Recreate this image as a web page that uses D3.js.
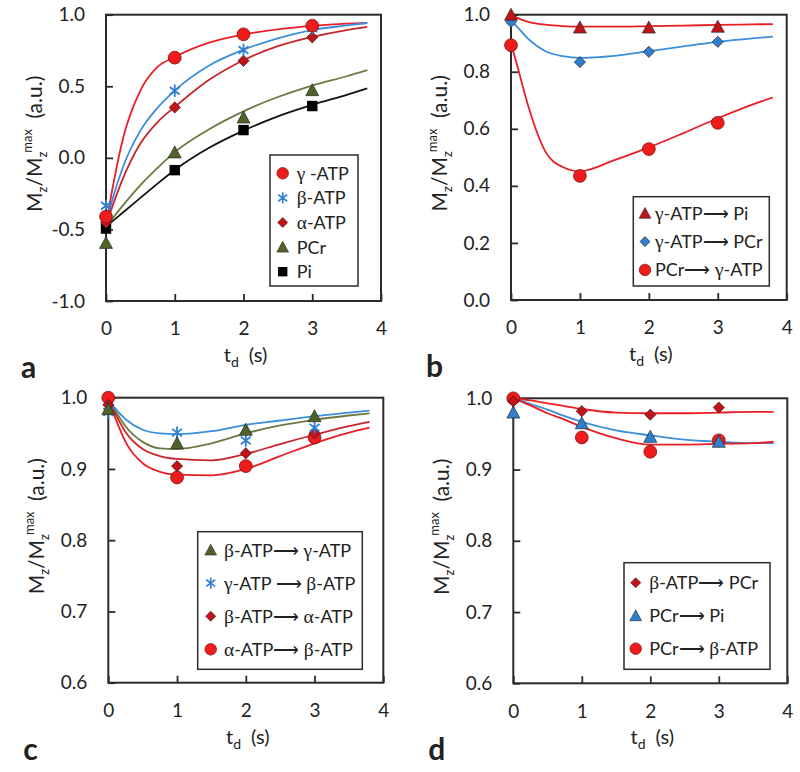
<!DOCTYPE html>
<html><head><meta charset="utf-8">
<script src="https://cdn.jsdelivr.net/npm/d3@7"></script>
<style>
body{margin:0;background:#fff}
text{font-family:Lato,'Open Sans',sans-serif;fill:#222}
</style>
</head><body>
<svg id="chart" width="800" height="772"></svg>
<script>
// ---------- data ----------
const tData = [0, 1, 2, 3];
const tFit = [0, 0.1, 0.25, 0.5, 0.75, 1, 1.5, 2, 2.5, 3, 3.5, 3.8];
const xTicks = [0, 1, 2, 3, 4];
const yTicksA = [-1.0, -0.5, 0.0, 0.5, 1.0];
const yTicksB = [0.0, 0.2, 0.4, 0.6, 0.8, 1.0];
const yTicksCD = [0.6, 0.7, 0.8, 0.9, 1.0];

// panel a
const aGammaATP = [-0.41, 0.70, 0.863, 0.923];
const aBetaATP = [-0.335, 0.469, 0.753, 0.905];
const aAlphaATP = [-0.452, 0.352, 0.678, 0.842];
const aPCr = [-0.594, 0.038, 0.282, 0.473];
const aPi = [-0.494, -0.086, 0.194, 0.362];
const aGammaATPFit = [-0.47, -0.20, 0.14, 0.47, 0.635, 0.705, 0.805, 0.862, 0.898, 0.922, 0.937, 0.942];
const aBetaATPFit = [-0.46, -0.28, -0.06, 0.19, 0.35, 0.47, 0.645, 0.755, 0.835, 0.893, 0.925, 0.942];
const aAlphaATPFit = [-0.47, -0.33, -0.14, 0.10, 0.25, 0.355, 0.545, 0.682, 0.78, 0.845, 0.893, 0.915];
const aPCrFit = [-0.48, -0.42, -0.33, -0.19, -0.07, 0.04, 0.20, 0.325, 0.425, 0.505, 0.57, 0.613];
const aPiFit = [-0.48, -0.44, -0.38, -0.28, -0.18, -0.085, 0.07, 0.19, 0.29, 0.37, 0.44, 0.485];

// panel b
const bGammaToPi = [1.0, 0.955, 0.955, 0.958];
const bGammaToPCr = [0.975, 0.834, 0.870, 0.905];
const bPCrToGamma = [0.893, 0.435, 0.529, 0.621];
const bGammaToPiFit = [1.0, 0.988, 0.975, 0.965, 0.96, 0.958, 0.958, 0.96, 0.962, 0.964, 0.966, 0.967];
const bGammaToPCrFit = [0.978, 0.955, 0.915, 0.872, 0.855, 0.849, 0.856, 0.872, 0.889, 0.905, 0.917, 0.923];
const bPCrToGammaFit = [0.90, 0.813, 0.68, 0.52, 0.466, 0.451, 0.49, 0.535, 0.585, 0.637, 0.685, 0.71];

// panel c
const cBetaToGamma = [0.984, 0.936, 0.955, 0.974];
const cGammaToBeta = [0.980, 0.951, 0.940, 0.958];
const cBetaToAlpha = [0.990, 0.904, 0.922, 0.950];
const cAlphaToBeta = [1.0, 0.888, 0.904, 0.944];
const cBetaToGammaFit = [0.998, 0.982, 0.96, 0.938, 0.929, 0.928, 0.936, 0.950, 0.961, 0.969, 0.975, 0.978];
const cGammaToBetaFit = [0.998, 0.985, 0.97, 0.955, 0.95, 0.949, 0.953, 0.962, 0.968, 0.974, 0.979, 0.982];
const cBetaToAlphaFit = [0.998, 0.978, 0.952, 0.928, 0.918, 0.914, 0.912, 0.921, 0.935, 0.948, 0.96, 0.966];
const cAlphaToBetaFit = [0.998, 0.972, 0.938, 0.908, 0.896, 0.892, 0.891, 0.900, 0.918, 0.936, 0.951, 0.958];

// panel d
const dBetaToPCr = [0.996, 0.982, 0.977, 0.987];
const dPCrToPi = [0.980, 0.965, 0.946, 0.939];
const dPCrToBeta = [1.0, 0.945, 0.925, 0.941];
const dBetaToPCrFit = [1.0, 0.999, 0.997, 0.993, 0.989, 0.985, 0.980, 0.979, 0.979, 0.980, 0.981, 0.981];
const dPCrToPiFit = [1.0, 0.997, 0.992, 0.984, 0.975, 0.967, 0.955, 0.948, 0.942, 0.939, 0.937, 0.937];
const dPCrToBetaFit = [1.0, 0.996, 0.99, 0.979, 0.97, 0.960, 0.944, 0.935, 0.935, 0.936, 0.937, 0.939];

// ---------- styles ----------
const RED = '#f01c1c', RED_LINE = '#ea1f26', DRED = '#c0131a', DRED_LINE = '#c8252b';
const BLUE = '#2f7fd0', BLUE_LINE = '#3a8fdb', OLIVE = '#4f6228', OLIVE_LINE = '#6b7a40';

const panels = [
  {label:'a', box:[106, 14.7, 381, 301], y:[-1, 1], yTicks:yTicksA,
   legend:{x:270, y:155, w:88, h:131, mx:282.7, tx:296.7, r0:173.3, dr:24.6},
   series:[
     {name:'γ -ATP', pts:aGammaATP, fit:aGammaATPFit, m:'circle', fill:RED, line:RED_LINE},
     {name:'β-ATP', pts:aBetaATP, fit:aBetaATPFit, m:'asterisk', fill:BLUE, line:BLUE_LINE},
     {name:'α-ATP', pts:aAlphaATP, fit:aAlphaATPFit, m:'diamond', fill:DRED, line:DRED_LINE},
     {name:'PCr', pts:aPCr, fit:aPCrFit, m:'triangle', fill:OLIVE, line:OLIVE_LINE},
     {name:'Pi', pts:aPi, fit:aPiFit, m:'square', fill:'#000', line:'#111'}
   ]},
  {label:'b', box:[511, 14.7, 786.7, 300], y:[0, 1], yTicks:yTicksB,
   legend:{x:633.3, y:196.7, w:136, h:89.3, mx:645, tx:655, r0:213.3, dr:28.3},
   series:[
     {name:'γ-ATP⟶ Pi', pts:bGammaToPi, fit:bGammaToPiFit, m:'triangle', fill:DRED, line:RED_LINE},
     {name:'γ-ATP⟶ PCr', pts:bGammaToPCr, fit:bGammaToPCrFit, m:'diamond', fill:BLUE, line:BLUE_LINE},
     {name:'PCr⟶ γ-ATP', pts:bPCrToGamma, fit:bPCrToGammaFit, m:'circle', fill:RED, line:RED_LINE}
   ]},
  {label:'c', box:[108.3, 397.7, 383.3, 682.7], y:[0.6, 1], yTicks:yTicksCD,
   legend:{x:197.7, y:531.7, w:164.6, h:137.6, mx:210.7, tx:224, r0:550, dr:33.1},
   series:[
     {name:'β-ATP⟶ γ-ATP', pts:cBetaToGamma, fit:cBetaToGammaFit, m:'triangle', fill:OLIVE, line:OLIVE_LINE},
     {name:'γ-ATP ⟶ β-ATP', pts:cGammaToBeta, fit:cGammaToBetaFit, m:'asterisk', fill:BLUE, line:BLUE_LINE},
     {name:'β-ATP⟶ α-ATP', pts:cBetaToAlpha, fit:cBetaToAlphaFit, m:'diamond', fill:DRED, line:DRED_LINE},
     {name:'α-ATP⟶ β-ATP', pts:cAlphaToBeta, fit:cAlphaToBetaFit, m:'circle', fill:RED, line:RED_LINE}
   ]},
  {label:'d', box:[513.3, 398.3, 787.3, 683.3], y:[0.6, 1], yTicks:yTicksCD,
   legend:{x:624, y:562.7, w:146, h:106.6, mx:635.7, tx:649.3, r0:582.7, dr:33},
   series:[
     {name:'β-ATP⟶ PCr', pts:dBetaToPCr, fit:dBetaToPCrFit, m:'diamond', fill:DRED, line:RED_LINE},
     {name:'PCr⟶ Pi', pts:dPCrToPi, fit:dPCrToPiFit, m:'triangle', fill:BLUE, line:BLUE_LINE},
     {name:'PCr⟶ β-ATP', pts:dPCrToBeta, fit:dPCrToBetaFit, m:'circle', fill:RED, line:RED_LINE}
   ]}
];

const svg = d3.select('#chart');
const AXIS = '#2b2b2b';

function drawMarker(g, type, x, y, fill) {
  if (type === 'circle') {
    g.append('circle').attr('cx', x).attr('cy', y).attr('r', 6.4)
      .attr('fill', fill).attr('stroke', '#7a1010').attr('stroke-width', 0.8);
  } else if (type === 'diamond') {
    const s = 5.6;
    g.append('path').attr('d', `M${x},${y - s}L${x + s},${y}L${x},${y + s}L${x - s},${y}Z`)
      .attr('fill', fill).attr('stroke', '#3a1a1a').attr('stroke-width', 0.7);
  } else if (type === 'triangle') {
    const s = 6.5;
    g.append('path').attr('d', `M${x},${y - s}L${x + s},${y + s * 0.85}L${x - s},${y + s * 0.85}Z`)
      .attr('fill', fill).attr('stroke', '#2a2a2a').attr('stroke-width', 0.7);
  } else if (type === 'square') {
    const s = 5.2;
    g.append('rect').attr('x', x - s).attr('y', y - s).attr('width', 2 * s).attr('height', 2 * s)
      .attr('fill', fill);
  } else if (type === 'asterisk') {
    const s = 6.2, d = s * 0.8;
    g.append('path').attr('d', `M${x},${y - s}L${x},${y + s}M${x - d},${y - d * 0.75}L${x + d},${y + d * 0.75}M${x - d},${y + d * 0.75}L${x + d},${y - d * 0.75}`)
      .attr('fill', 'none').attr('stroke', fill).attr('stroke-width', 1.8);
  }
}

function richText(sel, str) {
  // Greek letters drawn in a serif face, like the symbol font of the original
  const parts = str.match(/[α-ω]|[^α-ω]+/g);
  parts.forEach(p => {
    const t = sel.append('tspan').text(p);
    if (/[α-ω]/.test(p)) t.style('font-family', "'Liberation Serif','DejaVu Serif',serif").attr('font-size', '1.08em');
  });
}

panels.forEach(P => {
  const [L, T, R, B] = P.box;
  const x = d3.scaleLinear().domain([0, 4]).range([L, R]);
  const y = d3.scaleLinear().domain(P.y).range([B, T]);
  const g = svg.append('g');

  // plot frame
  g.append('rect').attr('x', L).attr('y', T).attr('width', R - L).attr('height', B - T)
    .attr('fill', 'none').attr('stroke', AXIS).attr('stroke-width', 2);

  // axes with inside ticks
  const yAxis = d3.axisLeft(y).tickValues(P.yTicks).tickSize(-7).tickPadding(21)
    .tickFormat(v => v.toFixed(1));
  const ya = g.append('g').attr('transform', `translate(${L},0)`).call(yAxis);
  const xAxis = d3.axisBottom(x).tickValues(xTicks).tickSize(-7).tickPadding(21)
    .tickFormat(d3.format('d'));
  const xa = g.append('g').attr('transform', `translate(0,${B})`).call(xAxis);
  [ya, xa].forEach(a => {
    a.select('.domain').remove();
    a.selectAll('.tick line').attr('stroke', AXIS).attr('stroke-width', 1.8);
    a.selectAll('.tick text').attr('font-size', 19).attr('fill', '#222')
      .style('font-family', "Lato,'Open Sans',sans-serif");
  });

  // fitted curves
  const line = d3.line().x((d, i) => x(tFit[i])).y(d => y(d)).curve(d3.curveMonotoneX);
  P.series.forEach(s => {
    g.append('path').datum(s.fit).attr('d', line).attr('fill', 'none')
      .attr('stroke', s.line).attr('stroke-width', 1.8);
  });
  // data points (drawn in reverse so the first series sits on top)
  P.series.slice().reverse().forEach(s => {
    s.pts.forEach((v, i) => drawMarker(g, s.m, x(tData[i]), y(v), s.fill));
  });

  // legend
  const Lg = P.legend;
  g.append('rect').attr('x', Lg.x).attr('y', Lg.y).attr('width', Lg.w).attr('height', Lg.h)
    .attr('fill', '#fff').attr('stroke', AXIS).attr('stroke-width', 1.5);
  P.series.forEach((s, i) => {
    const cy = Lg.r0 + i * Lg.dr;
    const mg = g.append('g').attr('transform', `translate(${Lg.mx},${cy}) scale(0.9) translate(${-Lg.mx},${-cy})`);
    drawMarker(mg, s.m, Lg.mx, cy, s.fill);
    const t = g.append('text').attr('x', Lg.tx).attr('y', cy + 6.5).attr('font-size', 18);
    richText(t, s.name);
  });

  // y title
  const yt = g.append('text').attr('transform', `translate(${L - 64},${(T + B) / 2 - 14}) rotate(-90)`)
    .attr('text-anchor', 'middle').attr('font-size', 21);
  yt.append('tspan').text('M');
  yt.append('tspan').attr('dy', 5).attr('font-size', 13).text('z');
  yt.append('tspan').attr('dy', -5).text('/M');
  yt.append('tspan').attr('dy', 5).attr('font-size', 13).text('z');
  yt.append('tspan').attr('dy', -15).attr('dx', -1).attr('font-size', 13).text('max');
  yt.append('tspan').attr('dy', 10).text('\u2002(a.u.)');

  // x title
  const xt = g.append('text').attr('x', (L + R) / 2 + 2).attr('y', B + 61)
    .attr('text-anchor', 'middle').attr('font-size', 20);
  xt.append('tspan').text('t');
  xt.append('tspan').attr('dy', 5).attr('font-size', 14).text('d');
  xt.append('tspan').attr('dy', -5).text('\u2002(s)');

  // panel letter
  g.append('text').attr('x', L - 85).attr('y', B + 77).attr('font-size', 30)
    .attr('font-weight', 'bold').attr('fill', '#111').text(P.label);
});
</script>
</body></html>
